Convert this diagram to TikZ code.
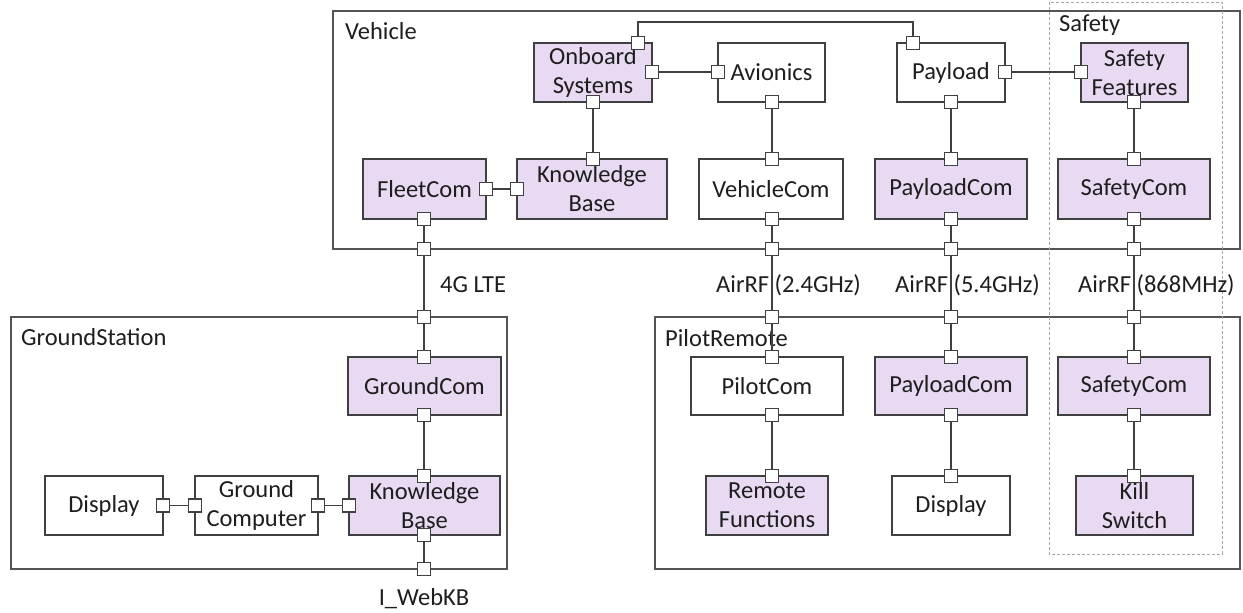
\documentclass[tikz,border=0pt]{standalone}
\usepackage{fontspec}
\setmainfont{Carlito}
\definecolor{lilac}{RGB}{231,218,242}
\definecolor{edge}{RGB}{64,64,64}
\definecolor{frameclr}{RGB}{84,84,84}
\definecolor{zoneclr}{RGB}{166,166,166}
\definecolor{ink}{RGB}{30,30,30}
\begin{document}
\begin{tikzpicture}[x=1pt,y=-1pt,
  font=\fontsize{24.5}{29}\selectfont,
  every node/.style={text=ink},
  comp/.style={draw=edge, line width=1.4pt, fill=white, inner sep=0pt, outer sep=0pt, align=center},
  compf/.style={comp, fill=lilac},
  port/.style={draw=edge, line width=1.3pt, fill=white, minimum size=13pt, inner sep=0pt, outer sep=0pt},
  wire/.style={draw=edge, line width=1.4pt},
  frame/.style={draw=frameclr, line width=1.4pt},
  zone/.style={draw=zoneclr, line width=1pt, dash pattern=on 3pt off 2pt},
  caption/.style={inner sep=0pt, anchor=base west}]

\useasboundingbox (0,0) rectangle (1243,613);

% containers
\draw[frame] (333,11) rectangle (1240,249);
\draw[frame] (11,317) rectangle (507,569);
\draw[frame] (655,317) rectangle (1240,569);
\draw[zone] (1049,2) rectangle (1222,554);

\node[caption] (lblVehicle) at (345,39) {Vehicle};
\node[caption] (lblSafety) at (1059,31) {Safety};
\node[caption] (lblGround) at (21,345) {GroundStation};
\node[caption] (lblPilot) at (665,346) {PilotRemote};

% vehicle components
\node[compf, minimum width=118pt, minimum height=59pt] (onb) at (593,72.5) {Onboard\\Systems};
\node[comp,  minimum width=107pt, minimum height=59pt] (avi) at (771.5,72.5) {Avionics};
\node[comp,  minimum width=108pt, minimum height=59pt] (pay) at (951,72.5) {Payload};
\node[compf, minimum width=107pt, minimum height=59pt] (sfe) at (1134.5,72.5) {Safety\\Features};
\node[compf, minimum width=123pt, minimum height=60pt] (flc) at (424.5,189) {FleetCom};
\node[compf, minimum width=150pt, minimum height=60pt] (kbv) at (592,189) {Knowledge\\Base};
\node[comp,  minimum width=144pt, minimum height=60pt] (vhc) at (771,189) {VehicleCom};
\node[compf, minimum width=152pt, minimum height=60pt] (pcv) at (951,189) {PayloadCom};
\node[compf, minimum width=152pt, minimum height=60pt] (scv) at (1134,189) {SafetyCom};

% ground station components
\node[compf, minimum width=153pt, minimum height=58pt] (gco) at (424.5,386) {GroundCom};
\node[compf, minimum width=151pt, minimum height=59pt] (kbg) at (424.5,505.5) {Knowledge\\Base};
\node[comp,  minimum width=123pt, minimum height=59pt] (gcp) at (256.5,505.5) {Ground\\Computer};
\node[comp,  minimum width=118pt, minimum height=59pt] (dsg) at (104,505.5) {Display};

% pilot remote components
\node[comp,  minimum width=152pt, minimum height=58pt] (plc) at (767,386) {PilotCom};
\node[compf, minimum width=152pt, minimum height=58pt] (pcp) at (951,386) {PayloadCom};
\node[compf, minimum width=152pt, minimum height=58pt] (scp) at (1134,386) {SafetyCom};
\node[compf, minimum width=122pt, minimum height=59pt] (rmf) at (767,505.5) {Remote\\Functions};
\node[comp,  minimum width=118pt, minimum height=59pt] (dsp) at (951,505.5) {Display};
\node[compf, minimum width=117pt, minimum height=59pt] (kls) at (1134.5,505.5) {Kill\\Switch};

% link labels
\node[caption] (lte) at (440,292) {4G LTE};
\node[caption] (rf24) at (716,292) {AirRF (2.4GHz)};
\node[caption] (rf54) at (895,292) {AirRF (5.4GHz)};
\node[caption] (rf868) at (1078,292) {AirRF (868MHz)};
\node[inner sep=0pt, anchor=base] (web) at (424,605) {I\_WebKB};

% ports
\node[port] (obT) at (638,43) {};
\node[port] (obR) at (652,72) {};
\node[port] (obB) at (593,102) {};
\node[port] (avL) at (718,72) {};
\node[port] (avB) at (772,102) {};
\node[port] (plT) at (913,43) {};
\node[port] (plR) at (1005,72) {};
\node[port] (plB) at (951,102) {};
\node[port] (sfL) at (1081,72) {};
\node[port] (sfB) at (1134,102) {};
\node[port] (fcR) at (486,189) {};
\node[port] (fcB) at (424,219) {};
\node[port] (kvL) at (517,189) {};
\node[port] (kvT) at (593,159) {};
\node[port] (vcT) at (772,159) {};
\node[port] (vcB) at (772,219) {};
\node[port] (pvT) at (951,159) {};
\node[port] (pvB) at (951,219) {};
\node[port] (svT) at (1134,159) {};
\node[port] (svB) at (1134,219) {};
\node[port] (bv1) at (424,249) {};
\node[port] (bv2) at (772,249) {};
\node[port] (bv3) at (951,249) {};
\node[port] (bv4) at (1134,249) {};
\node[port] (bg1) at (424,317) {};
\node[port] (bg2) at (424,569) {};
\node[port] (gcT) at (424,357) {};
\node[port] (gcB) at (424,415) {};
\node[port] (kgT) at (424,476) {};
\node[port] (kgB) at (424,535) {};
\node[port] (kgL) at (349,505.5) {};
\node[port] (cpR) at (318,505.5) {};
\node[port] (cpL) at (195,505.5) {};
\node[port] (dgR) at (163,505.5) {};
\node[port] (bp1) at (772,317) {};
\node[port] (bp2) at (951,317) {};
\node[port] (bp3) at (1134,317) {};
\node[port] (lcT) at (772,357) {};
\node[port] (lcB) at (772,415) {};
\node[port] (ppT) at (951,357) {};
\node[port] (ppB) at (951,415) {};
\node[port] (spT) at (1134,357) {};
\node[port] (spB) at (1134,415) {};
\node[port] (rfT) at (772,476) {};
\node[port] (dpT) at (951,476) {};
\node[port] (ksT) at (1134,476) {};

% bend points of the onboard-payload link
\coordinate (r1) at (638,22);
\coordinate (r2) at (913,22);

% connectors
\draw[wire] (obT) -- (r1) -- (r2) -- (plT);
\draw[wire] (obR) -- (avL);
\draw[wire] (obB) -- (kvT);
\draw[wire] (fcR) -- (kvL);
\draw[wire] (fcB) -- (bv1);
\draw[wire] (bv1) -- (bg1);
\draw[wire] (bg1) -- (gcT);
\draw[wire] (avB) -- (vcT);
\draw[wire] (vcB) -- (bv2);
\draw[wire] (bv2) -- (bp1);
\draw[wire] (bp1) -- (lcT);
\draw[wire] (lcB) -- (rfT);
\draw[wire] (plR) -- (sfL);
\draw[wire] (plB) -- (pvT);
\draw[wire] (pvB) -- (bv3);
\draw[wire] (bv3) -- (bp2);
\draw[wire] (bp2) -- (ppT);
\draw[wire] (ppB) -- (dpT);
\draw[wire] (sfB) -- (svT);
\draw[wire] (svB) -- (bv4);
\draw[wire] (bv4) -- (bp3);
\draw[wire] (bp3) -- (spT);
\draw[wire] (spB) -- (ksT);
\draw[wire] (gcB) -- (kgT);
\draw[wire] (kgB) -- (bg2);
\draw[wire] (dgR) -- (cpL);
\draw[wire] (cpR) -- (kgL);
\end{tikzpicture}
\end{document}
